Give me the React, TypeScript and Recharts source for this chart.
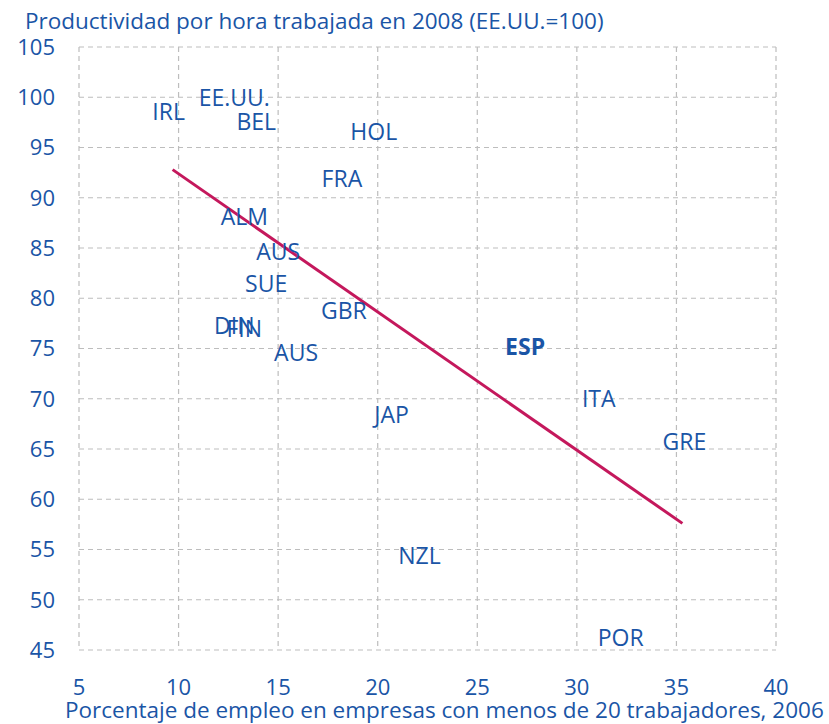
import { ScatterChart, Scatter, XAxis, YAxis, CartesianGrid } from "recharts";

const countries = ["IRL", "EE.UU.", "BEL", "HOL", "FRA", "ALM", "AUS", "SUE", "GBR", "DIN", "FIN", "AUS", "ESP", "ITA", "GRE", "JAP", "NZL", "POR"];
const empleoPequenas = [9.5, 12.8, 13.9, 19.8, 18.2, 13.3, 15.0, 14.4, 18.3, 12.8, 13.3, 15.9, 27.4, 31.1, 35.4, 20.7, 22.1, 32.2];
const productividad = [98.6, 100.0, 97.6, 96.6, 91.9, 88.1, 84.6, 81.4, 78.8, 77.3, 77.0, 74.6, 75.2, 70.0, 65.7, 68.4, 54.4, 46.2];
const destacado = ["ESP"];

const trendX = [9.7, 35.3];
const trendY = [92.8, 57.6];

const xTicks = [5, 10, 15, 20, 25, 30, 35, 40];
const yTicks = [45, 50, 55, 60, 65, 70, 75, 80, 85, 90, 95, 100, 105];

const BLUE = "#1a55a6";
const FONT = "'Open Sans', sans-serif";

const points = countries.map((name, i) => ({
  name,
  x: empleoPequenas[i],
  y: productividad[i],
  bold: destacado.includes(name),
}));
const trend = trendX.map((x, i) => ({ x, y: trendY[i] }));

function CountryLabel(props: any) {
  const { cx, cy, payload } = props;
  return (
    <text
      x={cx}
      y={cy}
      dy="0.36em"
      textAnchor="middle"
      fill={BLUE}
      fontSize={23}
      fontFamily={FONT}
      fontWeight={payload.bold ? 700 : 400}
    >
      {payload.name}
    </text>
  );
}

export default function App() {
  return (
    <div style={{ position: "absolute", left: 0, top: 0, width: 829, height: 724, background: "#fff", fontFamily: FONT, overflow: "hidden" }}>
      <div style={{ position: "absolute", left: 25, top: 6, fontSize: 22.5, color: BLUE, whiteSpace: "nowrap", lineHeight: "30px" }}>
        Productividad por hora trabajada en 2008 (EE.UU.=100)
      </div>
      <ScatterChart width={829} height={724} margin={{ top: 47, right: 53, left: 0, bottom: 0 }}>
        <CartesianGrid stroke="#bdbdbd" strokeDasharray="5 4" strokeWidth={1.2} />
        <XAxis
          type="number"
          dataKey="x"
          domain={[5, 40]}
          ticks={xTicks}
          axisLine={false}
          tickLine={false}
          tickSize={6}
          tickMargin={23}
          height={74}
          tick={{ fontSize: 22, fill: BLUE, fontFamily: FONT }}
        />
        <YAxis
          type="number"
          dataKey="y"
          domain={[45, 105]}
          ticks={yTicks}
          axisLine={false}
          tickLine={false}
          tickSize={6}
          tickMargin={18}
          width={79}
          tick={{ fontSize: 22, fill: BLUE, fontFamily: FONT }}
        />
        <Scatter data={trend} line={{ stroke: "#c4185c", strokeWidth: 3 }} shape={() => <g />} isAnimationActive={false} />
        <Scatter data={points} shape={CountryLabel} isAnimationActive={false} />
      </ScatterChart>
      <div style={{ position: "absolute", left: 65, top: 698, fontSize: 22.5, color: BLUE, whiteSpace: "nowrap", lineHeight: "24px" }}>
        Porcentaje de empleo en empresas con menos de 20 trabajadores, 2006
      </div>
    </div>
  );
}
